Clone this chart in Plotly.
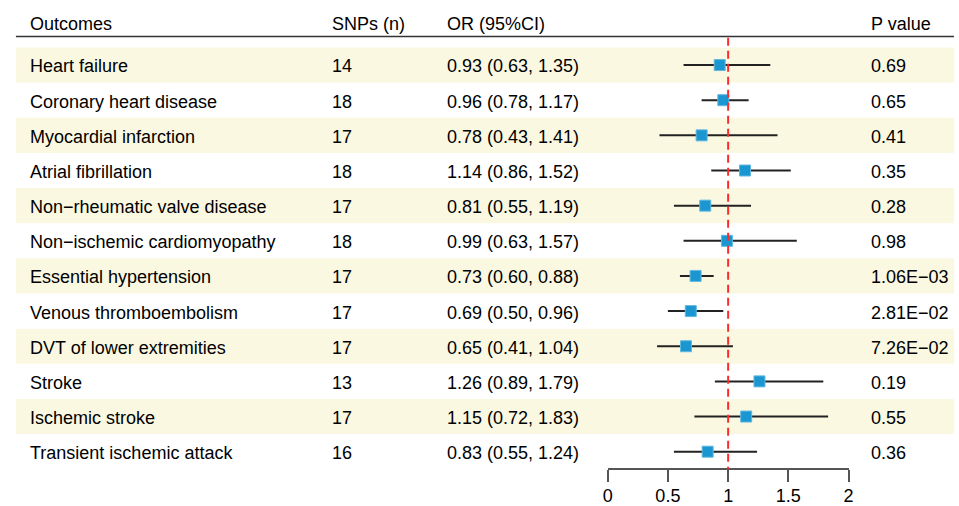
import plotly.graph_objects as go

outcomes = ["Heart failure", "Coronary heart disease", "Myocardial infarction",
            "Atrial fibrillation", "Non\u2212rheumatic valve disease",
            "Non\u2212ischemic cardiomyopathy", "Essential hypertension",
            "Venous thromboembolism", "DVT of lower extremities", "Stroke",
            "Ischemic stroke", "Transient ischemic attack"]
snps = [14, 18, 17, 18, 17, 18, 17, 17, 17, 13, 17, 16]
or_vals = [0.93, 0.96, 0.78, 1.14, 0.81, 0.99, 0.73, 0.69, 0.65, 1.26, 1.15, 0.83]
lower = [0.63, 0.78, 0.43, 0.86, 0.55, 0.63, 0.60, 0.50, 0.41, 0.89, 0.72, 0.55]
upper = [1.35, 1.17, 1.41, 1.52, 1.19, 1.57, 0.88, 0.96, 1.04, 1.79, 1.83, 1.24]
pvals = ["0.69", "0.65", "0.41", "0.35", "0.28", "0.98", "1.06E\u221203",
         "2.81E\u221202", "7.26E\u221202", "0.19", "0.55", "0.36"]
headers = ["Outcomes", "SNPs (n)", "OR (95%CI)", "P value"]
tick_vals = [0, 0.5, 1, 1.5, 2]

W, H = 959, 506
FONT = "Liberation Sans, Arial, sans-serif"
FS = 18

rows = list(range(1, len(outcomes) + 1))

fig = go.Figure()

shapes = []
for r in rows:
    if r % 2 == 1:
        shapes.append(dict(type="rect", xref="paper", yref="y", x0=11 / W, x1=1,
                           y0=r - 0.5, y1=r + 0.5, fillcolor="#FBF8E2",
                           line=dict(width=0), layer="below"))
shapes.append(dict(type="line", xref="paper", yref="y", x0=11 / W, x1=1,
                   y0=0.19, y1=0.19, line=dict(color="#333333", width=1.5)))
shapes.append(dict(type="line", xref="x", yref="y", x0=1, x1=1,
                   y0=0.22, y1=12.5, line=dict(color="#FF2A2A", width=2, dash="8px,5px"),
                   layer="above"))

fig.add_trace(go.Scatter(
    x=or_vals, y=rows, mode="markers",
    marker=dict(symbol="square", size=11, color="#1A97D0",
                line=dict(color="#63B8E0", width=1)),
    error_x=dict(type="data", symmetric=False,
                 array=[u - o for u, o in zip(upper, or_vals)],
                 arrayminus=[o - l for o, l in zip(or_vals, lower)],
                 color="#222222", thickness=2, width=0),
    showlegend=False, hoverinfo="skip", cliponaxis=False,
))

annotations = []
col_x = [23, 328, 445, 873]
for cx, h in zip(col_x, headers):
    annotations.append(dict(x=cx / W, y=-0.17, xref="paper", yref="y", text=h,
                            showarrow=False, xanchor="left", yanchor="middle",
                            font=dict(family=FONT, size=FS, color="black")))
for r, name, n, o, lo, hi, p in zip(rows, outcomes, snps, or_vals, lower, upper, pvals):
    texts = [name, str(n), f"{o:.2f} ({lo:.2f}, {hi:.2f})", p]
    for cx, t in zip(col_x, texts):
        annotations.append(dict(x=cx / W, y=r + 0.04, xref="paper", yref="y", text=t,
                                showarrow=False, xanchor="left", yanchor="middle",
                                font=dict(family=FONT, size=FS, color="black")))

y0_pix = 65.7
step = 35.5
y_top = 1 - y0_pix / step
y_bot = 1 + (H - y0_pix) / step

fig.update_layout(
    width=W - 16, height=H - 16,
    margin=dict(l=0, r=0, t=0, b=0),
    paper_bgcolor="white", plot_bgcolor="rgba(0,0,0,0)",
    hovermode=False,
    shapes=shapes, annotations=annotations,
    xaxis=dict(domain=[609 / W, 852.5 / W], range=[0, 2], anchor="free",
               position=1 - 474 / H, showline=True, linecolor="#555555", linewidth=1.5,
               ticks="outside", ticklen=12, tickwidth=1.5, tickcolor="#555555",
               tickvals=tick_vals, ticktext=[f"{v:g}" for v in tick_vals],
               ticklabelstandoff=-2,
               showgrid=False, zeroline=False,
               tickfont=dict(family=FONT, size=FS, color="black")),
    yaxis=dict(domain=[0, 1], range=[y_bot, y_top], visible=False,
               showgrid=False, zeroline=False),
    font=dict(family=FONT, size=FS, color="black"),
)

post = (
    "document.body.style.margin='0';"
    "var gd=document.getElementById('{plot_id}');"
    "Plotly.relayout(gd,{width:%d,height:%d});" % (W, H)
)

fig.write_html("out.html", config={"displayModeBar": False}, post_script=post)
